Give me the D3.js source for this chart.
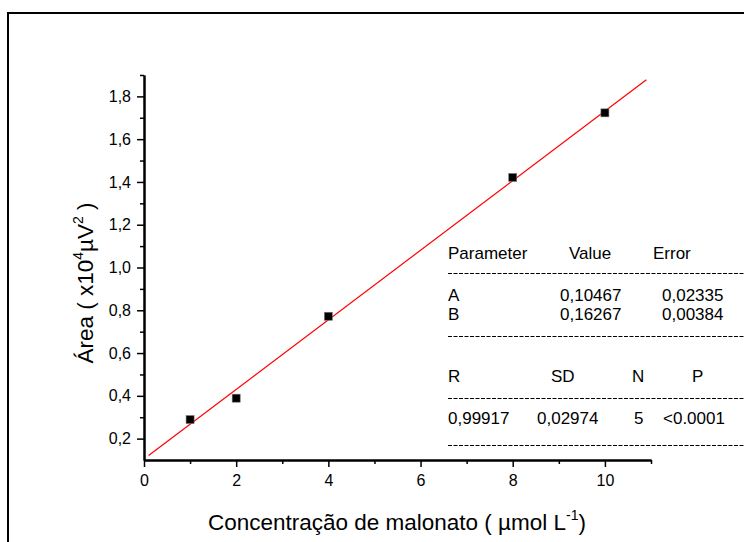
<!DOCTYPE html>
<html>
<head>
<meta charset="utf-8">
<script src="https://cdn.jsdelivr.net/npm/d3@7"></script>
<style>
  html, body { margin: 0; padding: 0; background: #fff; }
  svg { display: block; }
  text { font-family: "Liberation Sans", Arial, sans-serif; fill: #000; }
</style>
</head>
<body>
<script>
// Calibration data: peak area vs. malonate concentration
const concentrations = [1, 2, 4, 8, 10];
const areas = [0.289, 0.389, 0.772, 1.421, 1.723];

// Linear fit y = A + B x
const fitA = 0.10467;
const fitB = 0.16267;
const fitRange = [0.1, 10.9];

const xTicks = [0, 2, 4, 6, 8, 10];
const xMinorTicks = [1, 3, 5, 7, 9, 11];
const yTicks = [0.2, 0.4, 0.6, 0.8, 1.0, 1.2, 1.4, 1.6, 1.8];
const yMinorTicks = [0.3, 0.5, 0.7, 0.9, 1.1, 1.3, 1.5, 1.7, 1.9];

// Fit report table
const paramHeader = ["Parameter", "Value", "Error"];
const paramRows = [["A", "0,10467", "0,02335"], ["B", "0,16267", "0,00384"]];
const statHeader = ["R", "SD", "N", "P"];
const statRow = ["0,99917", "0,02974", "5", "<0.0001"];

const W = 744, H = 542;
const svg = d3.select("body").append("svg").attr("width", W).attr("height", H);

// outer frame
svg.append("rect").attr("x", 8).attr("y", 13).attr("width", 800).attr("height", 600)
  .attr("fill", "none").attr("stroke", "#000").attr("stroke-width", 2);

const x = d3.scaleLinear().domain([0, 11]).range([144, 651]);
const y = d3.scaleLinear().domain([0.1, 1.9]).range([460, 75]);
const comma = v => d3.format(".1f")(v).replace(".", ",");

// x axis
const gx = svg.append("g").attr("transform", `translate(0,${y(0.1)})`);
gx.call(d3.axisBottom(x).tickValues(xTicks).tickSize(7).tickSizeOuter(0).tickPadding(8).tickFormat(d3.format("d")));
gx.append("g").call(d3.axisBottom(x).tickValues(xMinorTicks).tickSize(4).tickSizeOuter(0).tickFormat(""));
// y axis
const gy = svg.append("g").attr("transform", `translate(${x(0)},0)`);
gy.call(d3.axisLeft(y).tickValues(yTicks).tickSize(7).tickSizeOuter(0).tickPadding(6).tickFormat(comma));
gy.append("g").call(d3.axisLeft(y).tickValues(yMinorTicks).tickSize(4).tickSizeOuter(0).tickFormat(""));

svg.selectAll(".domain").attr("stroke", "#000").attr("stroke-width", 2);
svg.selectAll(".tick line").attr("stroke", "#000").attr("stroke-width", 1.5);
svg.selectAll(".tick text").attr("font-family", "Liberation Sans, Arial, sans-serif")
  .attr("font-size", 16).attr("fill", "#000");

// fitted line
svg.append("line")
  .attr("x1", x(fitRange[0])).attr("y1", y(fitA + fitB * fitRange[0]))
  .attr("x2", x(fitRange[1])).attr("y2", y(fitA + fitB * fitRange[1]))
  .attr("stroke", "#ff0000").attr("stroke-width", 1.2);

// data points
const ms = 8;
svg.append("g").selectAll("rect").data(concentrations).join("rect")
  .attr("x", (d) => x(d) - ms / 2)
  .attr("y", (d, i) => y(areas[i]) - ms / 2)
  .attr("width", ms).attr("height", ms)
  .attr("fill", "#000").attr("stroke", "#777").attr("stroke-width", 0.6);

// axis titles
const xt = svg.append("text").attr("x", 397).attr("y", 530).attr("text-anchor", "middle").attr("font-size", 22.5);
xt.append("tspan").text("Concentração de malonato ( µmol L");
xt.append("tspan").attr("dy", -10).attr("font-size", 14).text("-1");
xt.append("tspan").attr("dy", 10).text(")");

const yt = svg.append("text").attr("transform", "translate(93,283) rotate(-90)")
  .attr("text-anchor", "middle").attr("font-size", 22.5);
yt.append("tspan").text("Área ( x10");
yt.append("tspan").attr("dy", -10).attr("font-size", 14).text("4");
yt.append("tspan").attr("dy", 10).text("µV");
yt.append("tspan").attr("dy", -10).attr("font-size", 14).text("2");
yt.append("tspan").attr("dy", 10).text(" )");

// fit report
const tfs = 17;
const table = svg.append("g").attr("font-size", tfs);
const paramCols = [448, 569, 653];
const paramValCols = [448, 560, 662];
paramHeader.forEach((t, i) => table.append("text").attr("x", paramCols[i]).attr("y", 259).text(t));
paramRows.forEach((row, r) => row.forEach((t, i) =>
  table.append("text").attr("x", paramValCols[i]).attr("y", 301 + r * 19).text(t)));
const statCols = [448, 551, 632, 692];
const statValCols = [448, 537, 634, 663];
statHeader.forEach((t, i) => table.append("text").attr("x", statCols[i]).attr("y", 382).text(t));
statRow.forEach((t, i) => table.append("text").attr("x", statValCols[i]).attr("y", 424).text(t));

[273, 336, 398, 445].forEach(yy => table.append("line")
  .attr("x1", 448).attr("x2", 744).attr("y1", yy + 0.5).attr("y2", yy + 0.5)
  .attr("stroke", "#000").attr("stroke-width", 1).attr("stroke-dasharray", "4,1.5"));
</script>
</body>
</html>
